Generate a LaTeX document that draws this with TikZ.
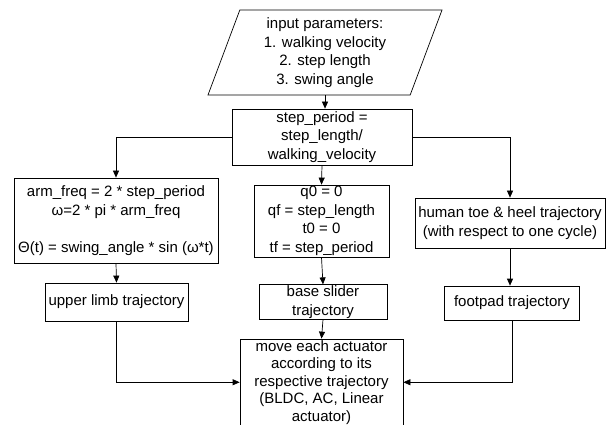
\documentclass[tikz,border=0pt]{standalone}
\usepackage{fontspec}
\setmainfont{Liberation Sans}
\usetikzlibrary{arrows.meta,shapes.geometric}

\begin{document}
\begin{tikzpicture}[x=1pt,y=-1pt,
	box/.style={draw,line width=0.7pt,align=center,inner sep=1pt,font=\fontsize{15}{18.5}\selectfont},
	arr/.style={line width=0.7pt,-{Triangle[length=7pt,width=6pt]}}]
	\useasboundingbox (0,0) rectangle (611,425);
	\clip (0,0) rectangle (611,425);
	\node[box,trapezium,trapezium left angle=66,trapezium right angle=114,trapezium stretches body,minimum width=234pt,minimum height=85pt] (inp) at (325,52.5) {input parameters:\\1. walking velocity\\2. step length\\3. swing angle};
	\node[box,minimum width=180pt,minimum height=56pt] (per) at (322,137) {step\_period =\\step\_length/\\walking\_velocity};
	\node[box,minimum width=204pt,minimum height=85pt] (arm) at (116,220.5) {arm\_freq = 2 * step\_period\\ω=2 * pi * arm\_freq\\[18.5pt]Θ(t) = swing\_angle * sin (ω*t)};
	\node[box,minimum width=135pt,minimum height=72pt] (traj) at (321.5,221) {q0 = 0\\qf = step\_length\\t0 = 0\\tf = step\_period};
	\node[box,minimum width=190pt,minimum height=50pt] (toe) at (510,223) {human toe \& heel trajectory\\(with respect to one cycle)};
	\node[box,minimum width=143pt,minimum height=38pt] (upper) at (116.5,302) {upper limb trajectory};
	\node[box,minimum width=128pt,minimum height=34pt] (slider) at (323,302) {base slider\\trajectory};
	\node[box,minimum width=135pt,minimum height=34pt] (foot) at (512,303) {footpad trajectory};
	\node[box,minimum width=163pt,minimum height=86.5pt,font=\fontsize{15}{17.5}\selectfont] (move) at (321.5,382.25) {move each actuator\\according to its\\respective trajectory\\(BLDC, AC, Linear\\actuator)};

	\draw[arr] (inp.south) -- (inp.south |- per.north);
	\draw[arr] (per.west) -| (arm.north);
	\draw[arr] (per.south) -- (traj.north);
	\draw[arr] (per.east) -| (toe.north);
	\draw[arr] (arm.south) -- (upper.north);
	\draw[arr] (traj.south) -- (slider.north);
	\draw[arr] (toe.south) -- (toe.south |- foot.north);
	\draw[arr] (slider.south) -- (move.north);
	\draw[arr] (upper.south) |- (move.west);
	\draw[arr] (foot.south) |- (move.east);
\end{tikzpicture}
\end{document}
